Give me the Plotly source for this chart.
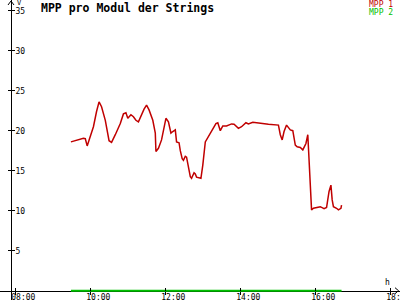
import plotly.graph_objects as go

# ---- data ----
series_names = ["MPP 1", "MPP 2"]
mpp1_times = ["09:29", "09:36", "09:41", "09:49", "09:52", "09:55", "09:58", "10:05", "10:10", "10:14",
              "10:18", "10:24", "10:30", "10:34", "10:40", "10:48", "10:53", "10:57", "11:00", "11:05",
              "11:09", "11:13", "11:17", "11:22", "11:26", "11:30", "11:34", "11:40", "11:44", "11:45",
              "11:49", "11:54", "12:01", "12:05", "12:09", "12:12", "12:16", "12:18", "12:22", "12:24",
              "12:27", "12:29", "12:32", "12:34", "12:37", "12:40", "12:42", "12:46", "12:48", "12:50",
              "12:57", "13:00", "13:04", "13:09", "13:14", "13:21", "13:24", "13:28", "13:32", "13:38",
              "13:46", "13:50", "13:57", "14:02", "14:09", "14:13", "14:20", "14:32", "14:45", "15:01",
              "15:04", "15:07", "15:10", "15:14", "15:20", "15:24", "15:28", "15:31", "15:36", "15:40",
              "15:45", "15:48", "15:50", "15:52", "15:54", "15:57", "16:02", "16:08", "16:14", "16:18",
              "16:22", "16:25", "16:27", "16:29", "16:34", "16:37", "16:41", "16:42"]
mpp1_values = [18.6, 18.75, 18.9, 19.05, 19.0, 18.1, 18.8, 20.5, 22.4, 23.6,
               23.0, 21.3, 18.75, 18.55, 19.5, 20.9, 22.1, 22.25, 21.55, 22.0,
               21.75, 21.3, 21.1, 22.0, 22.7, 23.2, 22.6, 21.3, 19.7, 17.4,
               17.8, 18.85, 21.55, 21.1, 19.7, 19.9, 20.1, 18.6, 18.5, 17.5,
               16.5, 16.3, 16.8, 16.7, 15.3, 14.25, 14.05, 14.75, 14.6, 14.2,
               14.05, 15.7, 18.6, 19.25, 19.9, 20.9, 21.0, 20.0, 20.6, 20.6,
               20.85, 20.8, 20.3, 20.5, 21.0, 20.85, 21.05, 20.9, 20.8, 20.7,
               19.5, 18.85, 19.9, 20.7, 20.1, 20.0, 18.2, 18.0, 17.9, 17.6,
               18.4, 19.5, 16.35, 12.8, 10.1, 10.3, 10.4, 10.5, 10.25, 10.4,
               12.4, 13.2, 11.35, 10.5, 10.3, 10.1, 10.3, 10.7]
mpp2_times = ["09:29", "11:00", "13:00", "15:00", "16:42"]
mpp2_values = [0.0, 0.0, 0.0, 0.0, 0.0]

x_tick_times = ["08:00", "10:00", "12:00", "14:00", "16:00", "18:00"]
y_tick_vals = [5, 10, 15, 20, 25, 30, 35]

title_text = "MPP pro Modul der Strings"
y_unit = "V"
x_unit = "h"
colors = ["#c00000", "#00c000"]

DAY = "2000-01-01 "
FONT = "DejaVu Sans Mono"

fig = go.Figure()
fig.add_trace(go.Scatter(x=[DAY + t for t in mpp2_times], y=mpp2_values, mode="lines",
                         line=dict(color=colors[1], width=2), name=series_names[1], showlegend=False))
fig.add_trace(go.Scatter(x=[DAY + t for t in mpp1_times], y=mpp1_values, mode="lines",
                         line=dict(color=colors[0], width=1.5), name=series_names[0], showlegend=False))

# invisible trace to bind the overlay tick axes
fig.add_trace(go.Scatter(x=[DAY + mpp1_times[0]], y=[mpp1_values[0]], xaxis="x2", yaxis="y2",
                         mode="markers", marker=dict(opacity=0), showlegend=False, hoverinfo="skip"))

x_range = [DAY + "07:35:31", DAY + "18:15:31"]
y_range = [-1.1625, 36.3375]
x_pos = (300 - 290.7) / 300
y_pos = 11 / 400

tick_x = [DAY + t for t in x_tick_times]

fig.update_layout(
    width=400, height=300, margin=dict(l=0, r=0, t=0, b=0, autoexpand=False),
    paper_bgcolor="white", plot_bgcolor="white",
    font=dict(family=FONT, size=8, color="black"),
    xaxis=dict(type="date", range=x_range, anchor="free", position=x_pos, automargin=False,
               showline=True, linecolor="black", linewidth=1, showgrid=False, zeroline=False,
               layer="below traces",
               tickmode="array", tickvals=tick_x, ticktext=x_tick_times,
               ticks="outside", ticklen=3, tickcolor="black", tickwidth=1,
               ticklabelshift=8, ticklabelstandoff=-4, ticklabeloverflow="allow",
               tickfont=dict(family=FONT, size=8, color="black")),
    yaxis=dict(range=y_range, anchor="free", position=y_pos, automargin=False,
               showline=True, linecolor="black", linewidth=1, showgrid=False, zeroline=False,
               tickmode="array", tickvals=y_tick_vals, ticktext=[str(v) for v in y_tick_vals],
               ticks="outside", ticklen=3, tickcolor="black", tickwidth=1,
               ticklabelposition="inside", ticklabelstandoff=2, ticklabeloverflow="allow",
               tickfont=dict(family=FONT, size=8, color="black")),
    xaxis2=dict(type="date", range=x_range, overlaying="x", anchor="free", position=x_pos,
                automargin=False,
                showline=False, showgrid=False, zeroline=False, showticklabels=False,
                tickmode="array", tickvals=tick_x, ticks="inside", ticklen=3,
                tickcolor="black", tickwidth=1),
    yaxis2=dict(range=y_range, overlaying="y", anchor="free", position=y_pos,
                automargin=False,
                showline=False, showgrid=False, zeroline=False, showticklabels=False,
                tickmode="array", tickvals=y_tick_vals, ticks="inside", ticklen=3,
                tickcolor="black", tickwidth=1),
    showlegend=False,
)

# axis arrow heads
fig.add_shape(type="path", xref="paper", yref="paper",
              path="M 0.02,0.9833 L 0.0275,0.9967 L 0.035,0.9833",
              line=dict(color="black", width=1))
fig.add_shape(type="path", xref="paper", yref="paper",
              path="M 0.9875,0.041 L 0.99625,0.031 L 0.9875,0.021",
              line=dict(color="black", width=1))

# title, units, legend
fig.add_annotation(text="<b>" + title_text + "</b>", xref="paper", yref="paper",
                   x=39 / 400, y=1 - 8.5 / 300, xanchor="left", yanchor="middle", showarrow=False,
                   font=dict(family=FONT, size=11.5, color="black"))
fig.add_annotation(text=y_unit, xref="paper", yref="paper", x=15 / 400, y=1 - 3 / 300,
                   xanchor="left", yanchor="middle", showarrow=False,
                   font=dict(family=FONT, size=7, color="black"))
fig.add_annotation(text=x_unit, xref="paper", yref="paper", x=387 / 400, y=1 - 282 / 300,
                   xanchor="center", yanchor="middle", showarrow=False,
                   font=dict(family=FONT, size=8, color="black"))
for i, name in enumerate(series_names):
    fig.add_annotation(text=name, xref="paper", yref="paper", x=395 / 400, y=1 - (4.3 + 8 * i) / 300,
                       xanchor="right", yanchor="middle", showarrow=False,
                       font=dict(family=FONT, size=8, color=colors[i]))

fig.write_html("out.html")
